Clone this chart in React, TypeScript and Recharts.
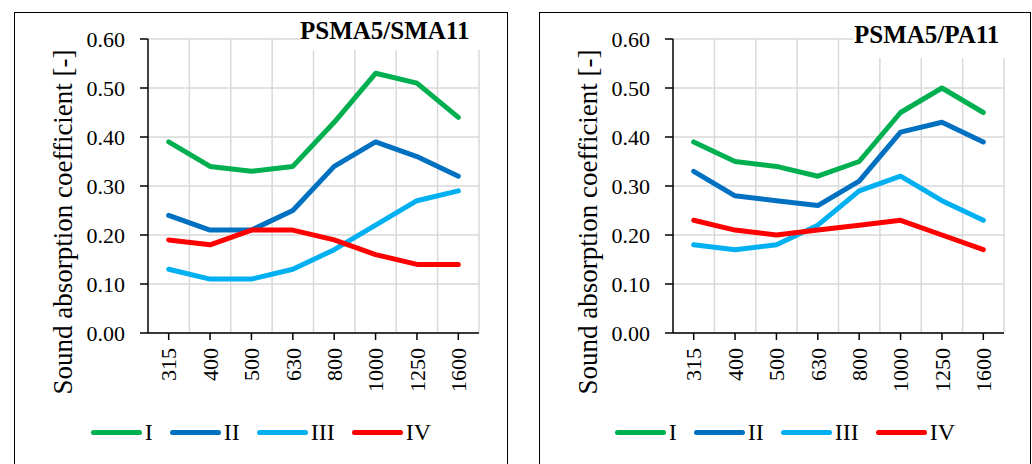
import { LineChart, Line, XAxis, YAxis, CartesianGrid, Legend, Label } from "recharts";

const FREQS = ["315", "400", "500", "630", "800", "1000", "1250", "1600"];
const Y_TICKS = [0, 0.1, 0.2, 0.3, 0.4, 0.5, 0.6];
const SERIES_NAMES = ["I", "II", "III", "IV"];
const SERIES_COLORS = ["#00b050", "#0070c0", "#00b0f0", "#ff0000"];

// PSMA5/SMA11
const SMA_I = [0.39, 0.34, 0.33, 0.34, 0.43, 0.53, 0.51, 0.44];
const SMA_II = [0.24, 0.21, 0.21, 0.25, 0.34, 0.39, 0.36, 0.32];
const SMA_III = [0.13, 0.11, 0.11, 0.13, 0.17, 0.22, 0.27, 0.29];
const SMA_IV = [0.19, 0.18, 0.21, 0.21, 0.19, 0.16, 0.14, 0.14];

// PSMA5/PA11
const PA_I = [0.39, 0.35, 0.34, 0.32, 0.35, 0.45, 0.5, 0.45];
const PA_II = [0.33, 0.28, 0.27, 0.26, 0.31, 0.41, 0.43, 0.39];
const PA_III = [0.18, 0.17, 0.18, 0.22, 0.29, 0.32, 0.27, 0.23];
const PA_IV = [0.23, 0.21, 0.2, 0.21, 0.22, 0.23, 0.2, 0.17];

const FONT = '"Liberation Serif", "Times New Roman", serif';

function buildRows(series: number[][]) {
  return FREQS.map((freq, i) => {
    const row: Record<string, string | number> = { freq };
    SERIES_NAMES.forEach((name, s) => {
      row[name] = series[s][i];
    });
    return row;
  });
}

function FreqTick({ x, y, payload }: any) {
  return (
    <text
      x={x}
      y={y}
      dy="0.35em"
      transform={`rotate(-90 ${x} ${y})`}
      textAnchor="end"
      fontSize={22}
      fontFamily={FONT}
      fill="#000"
    >
      {payload.value}
    </text>
  );
}

function SeriesLegend({ payload }: any) {
  return (
    <div style={{ display: "flex", justifyContent: "center", alignItems: "center", height: 30 }}>
      {(payload || []).map((p: any, i: number) => (
        <div key={p.value} style={{ display: "flex", alignItems: "center", marginLeft: i === 0 ? 0 : 17 }}>
          <span
            style={{ display: "inline-block", width: 51, height: 5, borderRadius: 3, background: p.color }}
          />
          <span style={{ marginLeft: 3, fontSize: 24, fontFamily: FONT, color: "#000", lineHeight: "30px" }}>
            {p.value}
          </span>
        </div>
      ))}
    </div>
  );
}

function Panel({
  left,
  width,
  marginRight,
  series,
  title,
  titleBox,
  titleText,
}: {
  left: number;
  width: number;
  marginRight: number;
  series: number[][];
  title: string;
  titleBox: { left: number; right: number; bottom: number };
  titleText: { left: number; top: number };
}) {
  const rows = buildRows(series);
  const height = 452;
  return (
    <>
      <div
        style={{
          position: "absolute",
          left,
          top: 12,
          width,
          height: 470,
          border: "1.5px solid #000",
          boxSizing: "border-box",
        }}
      />
      <div style={{ position: "absolute", left, top: 12 }}>
        <LineChart width={width} height={height} data={rows} margin={{ top: 27, right: marginRight, left: 0, bottom: 0 }}>
          <CartesianGrid
            stroke="#d9d9d9"
            strokeWidth={1.5}
            verticalCoordinatesGenerator={({ offset }: any) =>
              FREQS.map((_, i) => offset.left + (offset.width * (i + 1)) / FREQS.length)
            }
          />
          <XAxis
            dataKey="freq"
            scale="band"
            height={height - 27 - 294}
            axisLine={{ stroke: "#000", strokeWidth: 1.5 }}
            tickLine={{ stroke: "#000", strokeWidth: 1.5 }}
            tickSize={7}
            tickMargin={8}
            interval={0}
            tick={<FreqTick />}
          />
          <YAxis
            width={134}
            domain={[0, 0.6]}
            ticks={Y_TICKS}
            interval={0}
            tickFormatter={(v: number) => v.toFixed(2)}
            axisLine={{ stroke: "#000", strokeWidth: 1.5 }}
            tickLine={{ stroke: "#000", strokeWidth: 1.5 }}
            tickSize={8}
            tickMargin={15}
            tick={{ fontSize: 22, fontFamily: FONT, fill: "#000" }}
          >
            <Label
              content={() => (
                <text
                  x={49}
                  y={210}
                  transform="rotate(-90 49 210)"
                  textAnchor="middle"
                  dominantBaseline="central"
                  fontSize={27}
                  fontFamily={FONT}
                  fill="#000"
                >
                  Sound absorption coefficient [-]
                </text>
              )}
            />
          </YAxis>
          <Legend
            layout="horizontal"
            verticalAlign="middle"
            align="center"
            content={<SeriesLegend />}
            wrapperStyle={{ left: 0, top: 405, width }}
          />
          {SERIES_NAMES.map((name, s) => (
            <Line
              key={name}
              type="linear"
              dataKey={name}
              name={name}
              stroke={SERIES_COLORS[s]}
              strokeWidth={5}
              strokeLinejoin="round"
              strokeLinecap="round"
              dot={false}
              activeDot={false}
              isAnimationActive={false}
            />
          ))}
        </LineChart>
      </div>
      <div
        style={{
          position: "absolute",
          left: titleBox.left,
          top: 13.5,
          width: titleBox.right - titleBox.left,
          height: titleBox.bottom - 13.5,
          background: "#fff",
        }}
      />
      <div
        style={{
          position: "absolute",
          left: titleText.left,
          top: titleText.top,
          fontSize: 25,
          lineHeight: "25px",
          fontWeight: "bold",
          fontFamily: FONT,
          color: "#000",
          whiteSpace: "nowrap",
        }}
      >
        {title}
      </div>
    </>
  );
}

export default function App() {
  return (
    <div
      style={{
        position: "relative",
        width: 1032,
        height: 464,
        overflow: "hidden",
        background: "#fff",
        fontFamily: FONT,
      }}
    >
      <style>{`body{margin:0}`}</style>
      <Panel
        left={14}
        width={494}
        marginRight={29}
        series={[SMA_I, SMA_II, SMA_III, SMA_IV]}
        title="PSMA5/SMA11"
        titleBox={{ left: 300, right: 506, bottom: 50 }}
        titleText={{ left: 300, top: 18 }}
      />
      <Panel
        left={539}
        width={492}
        marginRight={27}
        series={[PA_I, PA_II, PA_III, PA_IV]}
        title="PSMA5/PA11"
        titleBox={{ left: 853, right: 1029, bottom: 58 }}
        titleText={{ left: 854, top: 22 }}
      />
    </div>
  );
}
